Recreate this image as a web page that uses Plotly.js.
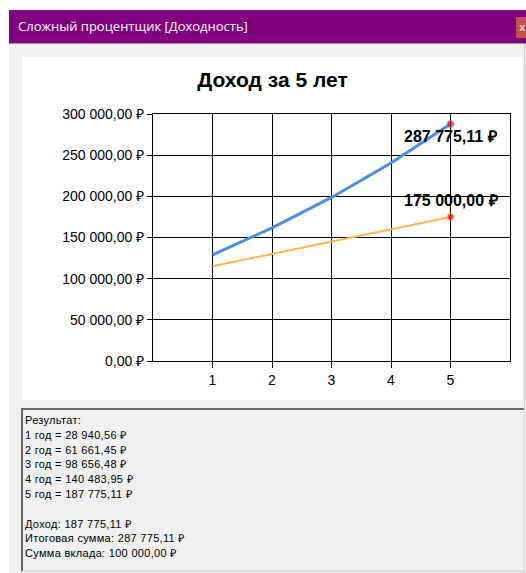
<!DOCTYPE html>
<html>
<head>
<meta charset="utf-8">
<script src="https://cdn.plot.ly/plotly-3.0.1.min.js"></script>
<style>
  html, body { margin:0; padding:0; width:526px; height:573px; overflow:hidden; background:#ffffff; }
  #win { position:absolute; left:9px; top:10px; width:517px; height:563px; background:#f0f0f0; }
  #titlebar { position:absolute; left:0; top:0; width:517px; height:33px; background:#800080; border-bottom:1px solid #b088b8; }
  #titletext { position:absolute; left:9px; top:7px; color:#ffffff; font-family:"Open Sans", "Noto Sans", sans-serif; font-size:13px; white-space:nowrap; }
  #closebtn { position:absolute; left:507px; top:7px; width:12px; height:21px; background:#c75050; color:#fff; font-family:"DejaVu Sans",sans-serif; font-size:11px; line-height:21px; padding-left:3px; }
  #edge { position:absolute; left:515px; top:34px; width:1px; height:529px; background:#d0d0d0; }
  #chart { position:absolute; left:22px; top:57px; width:501px; height:343px; background:#ffffff; }
  #result { position:absolute; left:21px; top:408px; width:498px; height:157px; background:#f0f0f0;
            border-top:2px solid #696969; border-left:2px solid #696969; border-right:2px solid #e3e3e3; border-bottom:2px solid #e3e3e3;
            font-family:"Liberation Sans", Arial, sans-serif; font-size:11px; line-height:14.8px; color:#000; letter-spacing:0.3px; padding:3px 0 0 2px; box-sizing:content-box; white-space:pre; }
</style>
</head>
<body>
<div id="win">
  <div id="titlebar"><div id="titletext"></div><div id="closebtn">x</div></div>
  <div id="edge"></div>
</div>
<div id="chart"></div>
<div id="result"></div>
<script>
// ---- data ----
const windowTitle = 'Сложный процентщик [Доходность]';
const chartTitle = 'Доход за 5 лет';
const years = [1, 2, 3, 4, 5];
const totalSum = [128940.56, 161661.45, 198656.48, 240483.95, 287775.11];   // сложные проценты
const simpleSum = [115000, 130000, 145000, 160000, 175000];                 // простые проценты
const yearlyIncome = [28940.56, 61661.45, 98656.48, 140483.95, 187775.11];
const deposit = 100000.00;
const xTickVals = [1, 2, 3, 4, 5];
const xTickText = ['1', '2', '3', '4', '5'];
const yTickVals = [0, 50000, 100000, 150000, 200000, 250000, 300000];
const yTickText = ['0,00 ₽', '50 000,00 ₽', '100 000,00 ₽', '150 000,00 ₽', '200 000,00 ₽', '250 000,00 ₽', '300 000,00 ₽'];

function rub(v) {
  const parts = v.toFixed(2).split('.');
  const intPart = parts[0].replace(/\B(?=(\d{3})+(?!\d))/g, ' ');
  return intPart + ',' + parts[1] + ' ₽';
}

document.getElementById('titletext').textContent = windowTitle;

let lines = ['Результат:'];
years.forEach((y, i) => lines.push(y + ' год = ' + rub(yearlyIncome[i])));
lines.push('');
lines.push('Доход: ' + rub(yearlyIncome[yearlyIncome.length - 1]));
lines.push('Итоговая сумма: ' + rub(totalSum[totalSum.length - 1]));
lines.push('Сумма вклада: ' + rub(deposit));
document.getElementById('result').textContent = lines.join('\n');

const last = years.length - 1;
const markerSizes = years.map((_, i) => i === last ? 7 : 0);

const traces = [
  { x: years, y: simpleSum, mode: 'lines+markers', line: { color: '#ffb44e', width: 2 },
    marker: { color: '#ff0000', size: markerSizes }, hoverinfo: 'skip' },
  { x: years, y: totalSum, mode: 'lines+markers', line: { color: '#4a8eec', width: 3 },
    marker: { color: '#ff0000', size: markerSizes }, hoverinfo: 'skip' }
];

const labelFont = { family: 'Liberation Sans, Arial, sans-serif', size: 16, color: '#000' };
const annotations = [
  { x: years[last], y: totalSum[last], text: '<b>' + rub(totalSum[last]) + '</b>', showarrow: false,
    xref: 'x', yref: 'y', yshift: -12, font: labelFont },
  { x: years[last], y: simpleSum[last], text: '<b>' + rub(simpleSum[last]) + '</b>', showarrow: false,
    xref: 'x', yref: 'y', yshift: 16, font: labelFont }
];

const layout = {
  width: 501, height: 343,
  margin: { l: 131, r: 13, t: 57, b: 39, pad: 0 },
  paper_bgcolor: '#ffffff', plot_bgcolor: '#ffffff',
  showlegend: false,
  title: { text: '<b>' + chartTitle + '</b>', x: 0.5, xref: 'container', xanchor: 'center',
           y: 1 - 23 / 343, yref: 'container', yanchor: 'middle',
           font: { family: 'Liberation Sans, Arial, sans-serif', size: 21, color: '#000' } },
  xaxis: { range: [0, 6], tickvals: xTickVals, ticktext: xTickText,
           showgrid: true, gridcolor: '#000', gridwidth: 1, zeroline: false,
           showline: true, linecolor: '#000', linewidth: 1, mirror: true,
           ticks: 'outside', ticklen: 6, tickcolor: '#000', tickwidth: 1,
           tickfont: { family: 'Liberation Sans, Arial, sans-serif', size: 14, color: '#000' },
           fixedrange: true },
  yaxis: { range: [0, 300000], tickvals: yTickVals, ticktext: yTickText,
           showgrid: true, gridcolor: '#000', gridwidth: 1, zeroline: false,
           showline: true, linecolor: '#000', linewidth: 1, mirror: true,
           ticks: 'outside', ticklen: 5, tickcolor: '#000', tickwidth: 1,
           tickfont: { family: 'Liberation Sans, Arial, sans-serif', size: 14, color: '#000' },
           fixedrange: true },
  annotations: annotations
};

Plotly.newPlot('chart', traces, layout, { displayModeBar: false, staticPlot: true });
</script>
</body>
</html>
